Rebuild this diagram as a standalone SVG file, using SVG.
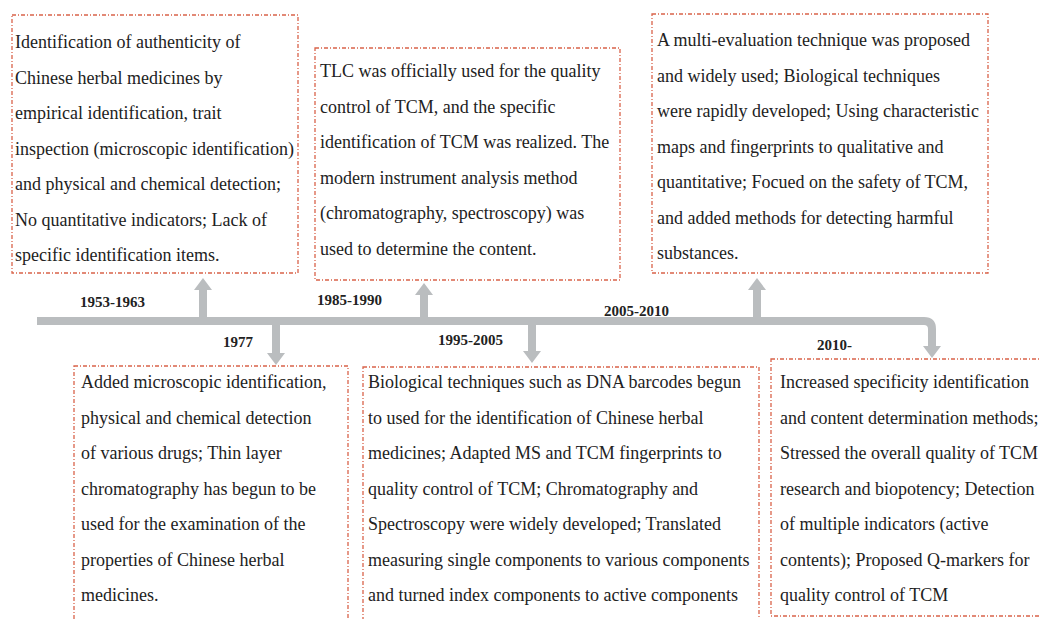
<svg xmlns="http://www.w3.org/2000/svg" width="1040" height="619" viewBox="0 0 1040 619">
<style>
.box{fill:#ffffff;stroke:#d9634a;stroke-width:1.3;stroke-dasharray:4 2 1 2}
.txt{font-family:"Liberation Serif","Times New Roman",serif;font-size:18px;fill:#222222}
.yr{font-family:"Liberation Serif","Times New Roman",serif;font-size:15px;fill:#222222;font-weight:bold}
.bar{fill:none;stroke:#babdbf;stroke-width:8}
</style>
<defs>
<marker id="ah" viewBox="0 0 12 18" refX="0" refY="9" markerWidth="12" markerHeight="18" markerUnits="userSpaceOnUse" orient="auto">
<path d="M0,0 L12,9 L0,18 Z" fill="#babdbf"/>
</marker>
</defs>
<rect width="1040" height="619" fill="#ffffff"/>

<g id="connectors">
<path class="bar" d="M37,321 H924 Q932,321 932,329 V346" marker-end="url(#ah)"/>
<path class="bar" d="M203,321 V290" marker-end="url(#ah)"/>
<path class="bar" d="M424,321 V295" marker-end="url(#ah)"/>
<path class="bar" d="M757,321 V290" marker-end="url(#ah)"/>
<path class="bar" d="M276,321 V353" marker-end="url(#ah)"/>
<path class="bar" d="M532,321 V351" marker-end="url(#ah)"/>
</g>

<g id="labels">
<text class="yr" x="80" y="307">1953-1963</text>
<text class="yr" x="317" y="305">1985-1990</text>
<text class="yr" x="604" y="316">2005-2010</text>
<text class="yr" x="223" y="347">1977</text>
<text class="yr" x="438" y="345">1995-2005</text>
<text class="yr" x="817" y="350">2010-</text>
</g>

<g id="node-1953">
<rect class="box" x="12" y="15" width="286" height="258"/>
<text class="txt" x="15" y="48">
<tspan x="15" dy="0">Identification of authenticity of</tspan>
<tspan x="15" dy="35.5">Chinese herbal medicines by</tspan>
<tspan x="15" dy="35.5">empirical identification, trait</tspan>
<tspan x="15" dy="35.5">inspection (microscopic identification)</tspan>
<tspan x="15" dy="35.5">and physical and chemical detection;</tspan>
<tspan x="15" dy="35.5">No quantitative indicators; Lack of</tspan>
<tspan x="15" dy="35.5">specific identification items.</tspan>
</text>
</g>

<g id="node-1985">
<rect class="box" x="315" y="48" width="305" height="232"/>
<text class="txt" x="320" y="77">
<tspan x="320" dy="0">TLC was officially used for the quality</tspan>
<tspan x="320" dy="35.5">control of TCM, and the specific</tspan>
<tspan x="320" dy="35.5">identification of TCM was realized. The</tspan>
<tspan x="320" dy="35.5">modern instrument analysis method</tspan>
<tspan x="320" dy="35.5">(chromatography, spectroscopy) was</tspan>
<tspan x="320" dy="35.5">used to determine the content.</tspan>
</text>
</g>

<g id="node-2005">
<rect class="box" x="652" y="14" width="336" height="259"/>
<text class="txt" x="657" y="46">
<tspan x="657" dy="0">A multi-evaluation technique was proposed</tspan>
<tspan x="657" dy="35.5">and widely used; Biological techniques</tspan>
<tspan x="657" dy="35.5">were rapidly developed; Using characteristic</tspan>
<tspan x="657" dy="35.5">maps and fingerprints to qualitative and</tspan>
<tspan x="657" dy="35.5">quantitative; Focued on the safety of TCM,</tspan>
<tspan x="657" dy="35.5">and added methods for detecting harmful</tspan>
<tspan x="657" dy="35.5">substances.</tspan>
</text>
</g>

<g id="node-1977">
<rect class="box" x="74" y="366" width="274" height="262"/>
<text class="txt" x="81" y="388">
<tspan x="81" dy="0">Added microscopic identification,</tspan>
<tspan x="81" dy="35.5">physical and chemical detection</tspan>
<tspan x="81" dy="35.5">of various drugs; Thin layer</tspan>
<tspan x="81" dy="35.5">chromatography has begun to be</tspan>
<tspan x="81" dy="35.5">used for the examination of the</tspan>
<tspan x="81" dy="35.5">properties of Chinese herbal</tspan>
<tspan x="81" dy="35.5">medicines.</tspan>
</text>
</g>

<g id="node-1995">
<rect class="box" x="363" y="367" width="396" height="262"/>
<text class="txt" x="368" y="388">
<tspan x="368" dy="0">Biological techniques such as DNA barcodes begun</tspan>
<tspan x="368" dy="35.5">to used for the identification of Chinese herbal</tspan>
<tspan x="368" dy="35.5">medicines; Adapted MS and TCM fingerprints to</tspan>
<tspan x="368" dy="35.5">quality control of TCM; Chromatography and</tspan>
<tspan x="368" dy="35.5">Spectroscopy were widely developed; Translated</tspan>
<tspan x="368" dy="35.5">measuring single components to various components</tspan>
<tspan x="368" dy="35.5">and turned index components to active components</tspan>
</text>
</g>

<g id="node-2010">
<rect class="box" x="771" y="359" width="280" height="257"/>
<text class="txt" x="780" y="388">
<tspan x="780" dy="0">Increased specificity identification</tspan>
<tspan x="780" dy="35.5">and content determination methods;</tspan>
<tspan x="780" dy="35.5">Stressed the overall quality of TCM</tspan>
<tspan x="780" dy="35.5">research and biopotency; Detection</tspan>
<tspan x="780" dy="35.5">of multiple indicators (active</tspan>
<tspan x="780" dy="35.5">contents); Proposed Q-markers for</tspan>
<tspan x="780" dy="35.5">quality control of TCM</tspan>
</text>
</g>
</svg>
